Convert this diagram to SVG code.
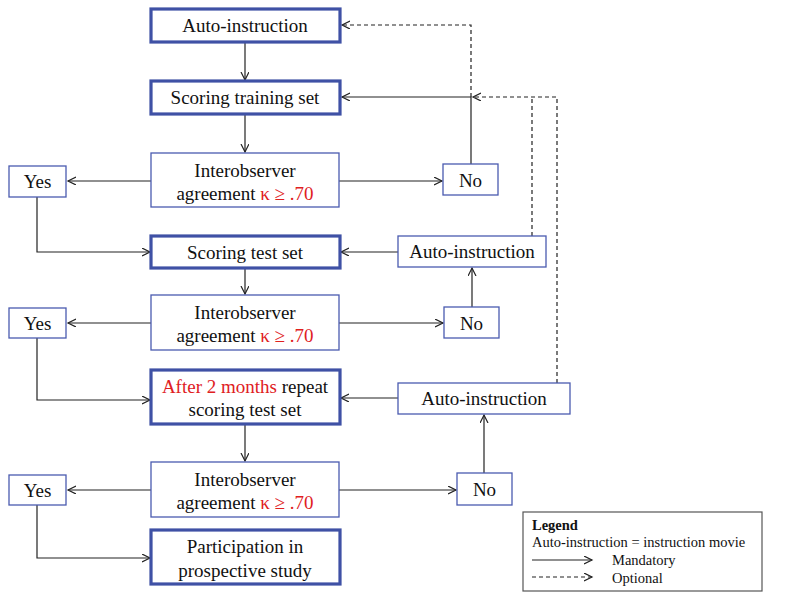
<svg xmlns="http://www.w3.org/2000/svg" width="800" height="600" viewBox="0 0 800 600">
<style>
  .thick { fill: #fff; stroke: #3F51A5; stroke-width: 3.2; }
  .thin { fill: #fff; stroke: #4A5BB0; stroke-width: 1.3; }
  text { font-family: "Liberation Serif", "Times New Roman", serif; font-size: 19px; fill: #111; }
  .c { text-anchor: middle; }
  .red { fill: #E0201E; }
  .con { fill: none; stroke: #222; stroke-width: 1.2; }
  .dash { stroke-dasharray: 4 3; }
  .leg { fill: #fff; stroke: #555; stroke-width: 1.2; }
  .lt { font-size: 14.5px; }
</style>
<defs>
  <marker id="arr" markerWidth="10" markerHeight="10" refX="8" refY="4" orient="auto" markerUnits="userSpaceOnUse">
    <path d="M0,0 L8,4 L0,8" fill="none" stroke="#222" stroke-width="1.2"/>
  </marker>
</defs>

<g id="connectors">
  <path class="con" d="M245,42 V80" marker-end="url(#arr)"/>
  <path class="con" d="M471,164 V97 H342" marker-end="url(#arr)"/>
  <path class="con dash" d="M471,97 V25 H342" marker-end="url(#arr)"/>
  <path class="con dash" d="M532,236 V97"/>
  <path class="con dash" d="M557,383 V97 H473" marker-end="url(#arr)"/>
  <path class="con" d="M245,114 V152" marker-end="url(#arr)"/>
  <path class="con" d="M151,181 H68" marker-end="url(#arr)"/>
  <path class="con" d="M339,181 H442" marker-end="url(#arr)"/>
  <path class="con" d="M37,197 V252 H150" marker-end="url(#arr)"/>
  <path class="con" d="M398,252 H341" marker-end="url(#arr)"/>
  <path class="con" d="M472,307 V268" marker-end="url(#arr)"/>
  <path class="con" d="M245,268 V294" marker-end="url(#arr)"/>
  <path class="con" d="M151,323 H68" marker-end="url(#arr)"/>
  <path class="con" d="M339,323 H443" marker-end="url(#arr)"/>
  <path class="con" d="M37,338 V400 H150" marker-end="url(#arr)"/>
  <path class="con" d="M398,398 H341" marker-end="url(#arr)"/>
  <path class="con" d="M484,473 V415" marker-end="url(#arr)"/>
  <path class="con" d="M245,424 V461" marker-end="url(#arr)"/>
  <path class="con" d="M151,490 H68" marker-end="url(#arr)"/>
  <path class="con" d="M339,490 H456" marker-end="url(#arr)"/>
  <path class="con" d="M37,505 V558 H150" marker-end="url(#arr)"/>
</g>

<g id="auto1">
  <rect class="thick" x="151" y="9" width="189" height="33"/>
  <text class="c" x="245" y="32">Auto-instruction</text>
</g>
<g id="training">
  <rect class="thick" x="151" y="81" width="189" height="33"/>
  <text class="c" x="245" y="104">Scoring training set</text>
</g>
<g id="agree1">
  <rect class="thin" x="151" y="153" width="188" height="54"/>
  <text class="c" x="245" y="177">Interobserver</text>
  <text class="c" x="245" y="200">agreement <tspan class="red">κ ≥ .70</tspan></text>
</g>
<g id="yes1">
  <rect class="thin" x="9" y="166" width="57" height="31"/>
  <text class="c" x="37.5" y="188">Yes</text>
</g>
<g id="no1">
  <rect class="thin" x="443" y="164" width="55" height="31"/>
  <text class="c" x="470.5" y="187">No</text>
</g>
<g id="testset">
  <rect class="thick" x="151" y="236" width="189" height="32"/>
  <text class="c" x="245" y="259">Scoring test set</text>
</g>
<g id="auto2">
  <rect class="thin" x="398" y="236" width="148" height="31"/>
  <text class="c" x="472" y="258">Auto-instruction</text>
</g>
<g id="agree2">
  <rect class="thin" x="151" y="295" width="188" height="55"/>
  <text class="c" x="245" y="319">Interobserver</text>
  <text class="c" x="245" y="342">agreement <tspan class="red">κ ≥ .70</tspan></text>
</g>
<g id="yes2">
  <rect class="thin" x="9" y="308" width="57" height="30"/>
  <text class="c" x="37.5" y="330">Yes</text>
</g>
<g id="no2">
  <rect class="thin" x="444" y="307" width="55" height="31"/>
  <text class="c" x="471.5" y="330">No</text>
</g>
<g id="repeat">
  <rect class="thick" x="151" y="370" width="189" height="54"/>
  <text class="c" x="245" y="393"><tspan class="red">After 2 months</tspan> repeat</text>
  <text class="c" x="245" y="416">scoring test set</text>
</g>
<g id="auto3">
  <rect class="thin" x="398" y="383" width="172" height="31"/>
  <text class="c" x="484" y="405">Auto-instruction</text>
</g>
<g id="agree3">
  <rect class="thin" x="151" y="462" width="188" height="55"/>
  <text class="c" x="245" y="486">Interobserver</text>
  <text class="c" x="245" y="509">agreement <tspan class="red">κ ≥ .70</tspan></text>
</g>
<g id="yes3">
  <rect class="thin" x="9" y="475" width="57" height="30"/>
  <text class="c" x="37.5" y="497">Yes</text>
</g>
<g id="no3">
  <rect class="thin" x="457" y="473" width="55" height="32"/>
  <text class="c" x="484.5" y="496">No</text>
</g>
<g id="participation">
  <rect class="thick" x="151" y="530" width="189" height="54"/>
  <text class="c" x="245" y="553">Participation in</text>
  <text class="c" x="245" y="577">prospective study</text>
</g>

<g id="legend">
  <rect class="leg" x="523" y="512" width="239" height="79"/>
  <text class="lt" x="532" y="530" font-weight="bold">Legend</text>
  <text class="lt" x="532" y="547">Auto-instruction = instruction movie</text>
  <path class="con" d="M532,560 H592" marker-end="url(#arr)"/>
  <text class="lt" x="612" y="565">Mandatory</text>
  <path class="con dash" d="M532,577 H592" marker-end="url(#arr)"/>
  <text class="lt" x="612" y="583">Optional</text>
</g>
</svg>
